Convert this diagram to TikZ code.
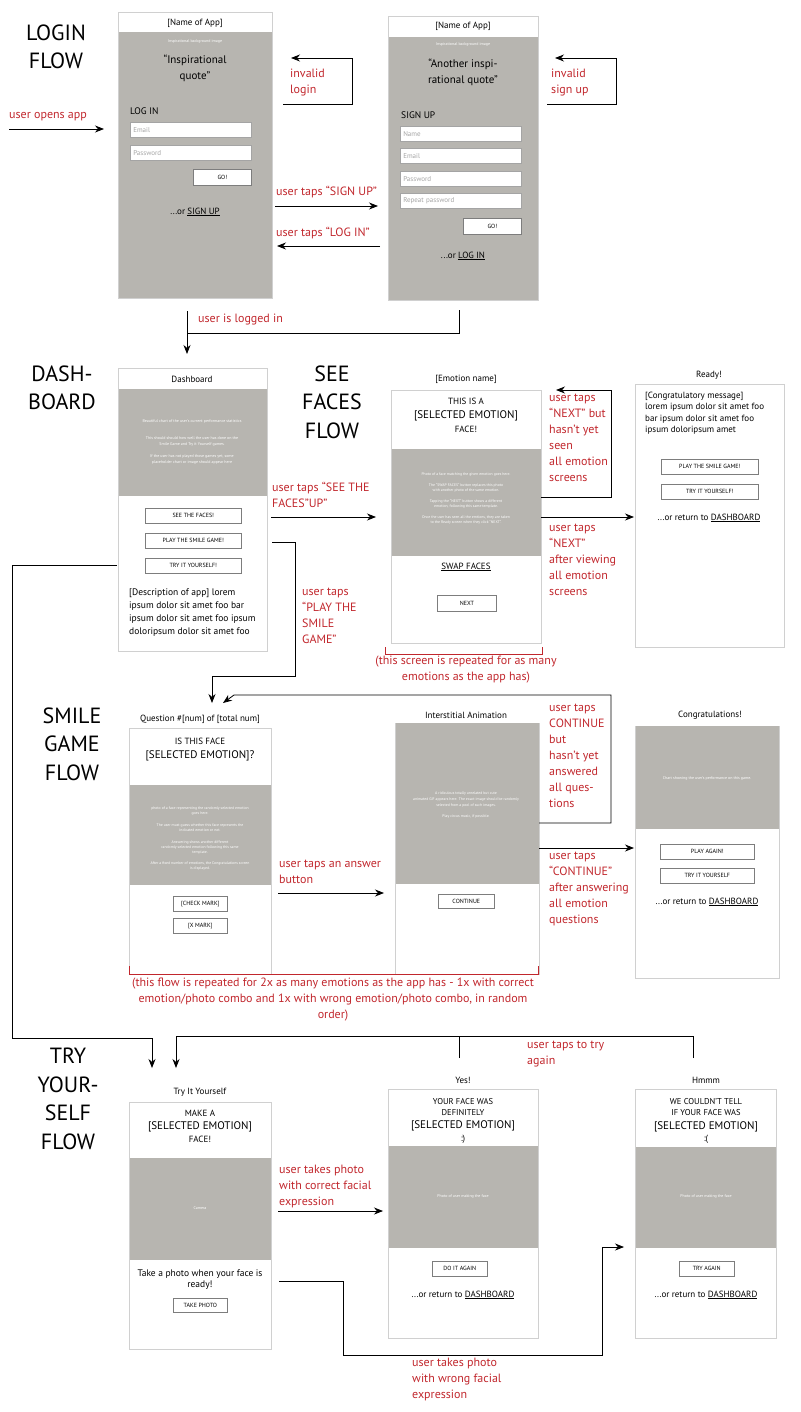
\documentclass[tikz,border=0pt]{standalone}
\usepackage{fontspec}
\setmainfont{PT Sans}
\usetikzlibrary{arrows.meta,positioning}

\definecolor{wiregray}{RGB}{183,181,176}
\definecolor{framegray}{RGB}{208,208,208}
\definecolor{btnedge}{RGB}{125,125,125}
\definecolor{hintgray}{RGB}{165,165,165}
\definecolor{flowred}{RGB}{193,39,45}

\tikzset{
  screen/.style={draw=framegray, line width=0.9pt, fill=white, anchor=north west, inner sep=0pt},
  photo/.style={fill=wiregray, anchor=north west, inner sep=0pt},
  btn/.style={draw=btnedge, fill=white, line width=0.6pt, anchor=north west, inner sep=0pt, font=\fontsize{6}{7}\selectfont},
  field/.style={draw=btnedge!70, fill=white, line width=0.5pt, anchor=north west, text width=115pt, inner xsep=3pt, inner ysep=0pt, minimum height=15pt, align=left, text=hintgray, font=\fontsize{7}{8}\selectfont},
  bgnote/.style={text=white, font=\fontsize{4}{5}\selectfont, align=center, inner sep=0pt},
  scrtitle/.style={font=\fontsize{9}{11}\selectfont, inner sep=0pt},
  small/.style={font=\fontsize{8.5}{11.5}\selectfont, align=center, inner sep=0pt},
  emo/.style={font=\fontsize{11}{13}\selectfont, inner sep=0pt},
  linktext/.style={font=\fontsize{9}{11}\selectfont, inner sep=0pt},
  bigtitle/.style={font=\fontsize{22}{28.5}\selectfont, align=center, inner sep=0pt},
  flowlabel/.style={text=flowred, font=\fontsize{12}{16}\selectfont, align=left, anchor=west, inner sep=0pt},
  link/.style={-{Stealth[length=9pt,width=7pt]}, line width=0.8pt},
  wire/.style={line width=0.8pt},
  bracket/.style={draw=flowred, line width=1pt}
}

\begin{document}
\begin{tikzpicture}[x=1pt,y=-1pt]
\useasboundingbox (0,0) rectangle (800,1412);

% Section titles
\node[bigtitle] (logintitle) at (56,47) {LOGIN\\FLOW};
\node[bigtitle] (dashtitle) at (62,388) {DASH-\\BOARD};
\node[bigtitle] (facestitle) at (332,402) {SEE\\FACES\\FLOW};
\node[bigtitle] (smiletitle) at (72,744) {SMILE\\GAME\\FLOW};
\node[bigtitle] (trytitle) at (68,1099) {TRY\\YOUR-\\SELF\\FLOW};

% Login screen
\node[screen, minimum width=154pt, minimum height=286pt] (login) at (118,12) {};
\node[photo, minimum width=153pt, minimum height=265.5pt] (loginbg) at (118.5,32) {};
\node[scrtitle] (loginname) at (195,23) {[Name of App]};
\node[bgnote] (loginnote) at (195,42) {Inspirational background image};
\node[emo, align=center, font=\fontsize{11}{16}\selectfont] (loginquote) at (195,68) {“Inspirational\\quote”};
\node[linktext, anchor=west, font=\fontsize{9.5}{11}\selectfont] (loginhead) at (130,111) {LOG IN};
\node[field] (loginmail) at (130,122) {Email};
\node[field] (loginpass) at (130,145) {Password};
\node[btn, minimum width=58pt, minimum height=16pt] (logingo) at (193,169) {GO!};
\node[linktext] (loginalt) at (195,212) {...or \underline{SIGN UP}};

% Sign up screen
\node[screen, minimum width=150pt, minimum height=284pt] (signup) at (388,16) {};
\node[photo, minimum width=149pt, minimum height=262.5pt] (signupbg) at (388.5,37) {};
\node[scrtitle] (signupname) at (463,26) {[Name of App]};
\node[bgnote] (signupnote) at (463,45) {Inspirational background image};
\node[emo, align=center, font=\fontsize{11}{16}\selectfont] (signupquote) at (463,72) {“Another inspi-\\rational quote”};
\node[linktext, anchor=west, font=\fontsize{9.5}{11}\selectfont] (signuphead) at (401,115) {SIGN UP};
\foreach \y/\t [count=\i] in {126/Name,148/Email,171/Password,193/Repeat password}
  \node[field] (signfield\i) at (400,\y) {\t};
\node[btn, minimum width=58pt, minimum height=16pt] (signupgo) at (463,218) {GO!};
\node[linktext] (signupalt) at (463,256) {...or \underline{LOG IN}};

% Login flow connectors
\coordinate (appopen) at (9,129);
\coordinate (appin) at (104,129);
\draw[link] (appopen) -- (appin);
\node[flowlabel] (openlbl) at (9,117) {user opens app};

\coordinate (invlogfrom) at (283,104);
\coordinate (invlogturn) at (352,58);
\coordinate (invlogto) at (291,58);
\draw[link] (invlogfrom) -| (invlogturn) -- (invlogto);
\node[flowlabel] (invloglbl) at (290,83) {invalid\\login};

\coordinate (invsignfrom) at (547,104);
\coordinate (invsignturn) at (616,58);
\coordinate (invsignto) at (555,58);
\draw[link] (invsignfrom) -| (invsignturn) -- (invsignto);
\node[flowlabel] (invsignlbl) at (551,83) {invalid\\sign up};

\coordinate (tosignfrom) at (275,206);
\coordinate (tosignto) at (378,206);
\draw[link] (tosignfrom) -- (tosignto);
\node[flowlabel] (tosignlbl) at (276,192) {user taps “SIGN UP”};

\coordinate (tologfrom) at (380,246);
\coordinate (tologto) at (277,246);
\draw[link] (tologfrom) -- (tologto);
\node[flowlabel] (tologlbl) at (276,233) {user taps “LOG IN”};

\coordinate (loggedfrom) at (187,311);
\coordinate (loggedto) at (187,354);
\coordinate (signedfrom) at (459,310);
\coordinate (loggedjoin) at (187,333);
\draw[link] (loggedfrom) -- (loggedto);
\draw[wire] (signedfrom) |- (loggedjoin);
\node[flowlabel] (loggedlbl) at (198,320) {user is logged in};

% Dashboard screen
\node[screen, minimum width=149pt, minimum height=283pt] (dash) at (118,368) {};
\node[photo, minimum width=148pt, minimum height=107pt] (dashbg) at (118.5,389) {};
\node[scrtitle] (dashname) at (192,379) {Dashboard};
\node[bgnote, font=\fontsize{4}{6}\selectfont] (dashnote) at (192,442) {Beautiful chart of the user’s current performance statistics\\[11.6pt]This should should how well the user has done on the\\Smile Game and Try it Yourself games.\\[5.7pt]If the user has not played those games yet, some\\placeholder chart or image should appear here};
\foreach \y/\t [count=\i] in {508/SEE THE FACES!,533/PLAY THE SMILE GAME!,558/TRY IT YOURSELF!}
  \node[btn, minimum width=96pt, minimum height=15pt] (dashbtn\i) at (145,\y) {\t};
\node[font=\fontsize{9.5}{13}\selectfont, align=left, anchor=west, inner sep=0pt] (dashdesc) at (129,612.5) {[Description of app] lorem\\ipsum dolor sit amet foo bar\\ipsum dolor sit amet foo ipsum\\doloripsum dolor sit amet foo};

% See faces screen
\node[screen, minimum width=150pt, minimum height=253pt] (emotion) at (391,390) {};
\node[photo, minimum width=149pt, minimum height=107pt] (emotionbg) at (391.5,449) {};
\node[scrtitle] (emotionname) at (466,379) {[Emotion name]};
\node[scrtitle] (emotiontop) at (466,401) {THIS IS A};
\node[emo] (emotionsel) at (466,416) {[SELECTED EMOTION]};
\node[scrtitle] (emotionface) at (466,429) {FACE!};
\node[bgnote, font=\fontsize{3.8}{5}\selectfont] (emotionnote) at (466,498.5) {Photo of a face matching the given  emotion goes here.\\[6pt]The “SWAP FACES” button replaces this photo\\with another photo of the same emotion.\\[5.7pt]Tapping the “NEXT” button shows a different\\emotion, following this same template.\\[5.4pt]Once the user has seen all the emtions, they are taken\\to the Ready screen when they click “NEXT”.};
\node[linktext] (emotionswap) at (466,567) {\underline{SWAP FACES}};
\node[btn, minimum width=59pt, minimum height=16pt] (emotionnext) at (437,595) {NEXT};
\draw[bracket] (385,647) -- (385,654) -- (542,654) -- (542,647);
\node[flowlabel, align=center, anchor=center] (emotioncap) at (466,670) {(this screen is repeated for as many\\emotions as the app has)};

% Ready screen
\node[screen, minimum width=149pt, minimum height=263pt] (ready) at (635,384) {};
\node[scrtitle] (readyname) at (709,375) {Ready!};
\node[font=\fontsize{9}{11.5}\selectfont, align=left, anchor=west, inner sep=0pt] (readymsg) at (645,413) {[Congratulatory message]\\lorem ipsum dolor sit amet foo\\bar ipsum dolor sit amet foo\\ipsum doloripsum amet};
\foreach \y/\t [count=\i] in {459/PLAY THE SMILE GAME!,484/TRY IT YOURSELF!}
  \node[btn, minimum width=97pt, minimum height=15pt] (readybtn\i) at (661,\y) {\t};
\node[linktext] (readyalt) at (709,518) {...or return to \underline{DASHBOARD}};

% Faces flow connectors
\coordinate (facesfrom) at (271,517);
\coordinate (facesto) at (376,517);
\draw[link] (facesfrom) -- (facesto);
\node[flowlabel] (faceslbl) at (272,495) {user taps “SEE THE\\FACES”UP”};

\coordinate (nextfrom) at (541,497);
\coordinate (nextturn) at (611,390);
\coordinate (nextto) at (556,390);
\draw[link] (nextfrom) -| (nextturn) -- (nextto);
\node[flowlabel] (nextlbl) at (549,437.5) {user taps\\“NEXT” but\\hasn’t yet\\seen\\all emotion\\screens};

\coordinate (readyfrom) at (541,517);
\coordinate (readyto) at (634,517);
\draw[link] (readyfrom) -- (readyto);
\node[flowlabel] (readylbl) at (549,560) {user taps\\“NEXT”\\after viewing\\all emotion\\screens};

\coordinate (playfrom) at (272,542);
\coordinate (playturn) at (295,676);
\coordinate (playto) at (212,703);
\draw[link] (playfrom) -| (playturn) -| (playto);
\node[flowlabel] (playlbl) at (302,615.5) {user taps\\“PLAY THE\\SMILE\\GAME”};

\coordinate (tryfrom) at (117,565);
\coordinate (tryturn) at (12,1038);
\coordinate (tryto) at (152,1068);
\draw[link] (tryfrom) -| (tryturn) -| (tryto);

% Smile game question screen
\node[screen, minimum width=142pt, minimum height=246pt] (question) at (129,728) {};
\node[photo, minimum width=141pt, minimum height=100pt] (questionbg) at (129.5,785) {};
\node[scrtitle] (questionname) at (200,719) {Question \#[num] of [total num]};
\node[scrtitle] (questiontop) at (200,741) {IS THIS FACE};
\node[emo] (questionsel) at (200,756) {[SELECTED EMOTION]?};
\node[bgnote, font=\fontsize{3.8}{5}\selectfont] (questionnote) at (200,839) {photo of a face representing the randomly selected emotion\\goes here.\\[7pt]The user must guess whether this face represents the\\indicated emotion or not.\\[7pt]Answering shows another different\\randomly selected emotion following this same\\template.\\[6pt]After a fixed number of emotions, the Congratulations screen\\is displayed.};
\node[btn, minimum width=54pt, minimum height=15pt] (questionyes) at (173,896) {[CHECK MARK]};
\node[btn, minimum width=54pt, minimum height=15pt] (questionno) at (173,918) {[X MARK]};

% Interstitial screen
\node[screen, minimum width=144pt, minimum height=251pt] (inter) at (395,723) {};
\node[photo, minimum width=143pt, minimum height=161pt] (interbg) at (395.5,723) {};
\node[scrtitle] (intername) at (466,715) {Interstitial Animation};
\node[bgnote, font=\fontsize{3.8}{6}\selectfont] (internote) at (466,805.5) {A ridiculous totally unrelated but cute\\animated GIF appears here. The exact image should be randomly\\selected from a pool of such images.\\[5pt]Play circus music, if possible.};
\node[btn, minimum width=56pt, minimum height=14pt] (intercont) at (438,894) {CONTINUE};
\draw[bracket] (129,966) -- (129,974) -- (538,974) -- (538,966);
\node[flowlabel, align=center, anchor=center] (smilecap) at (333,999.5) {(this flow is repeated for 2x as many emotions as the app has - 1x with correct\\emotion/photo combo and 1x with wrong emotion/photo combo, in random\\order)};

% Congratulations screen
\node[screen, minimum width=144pt, minimum height=252pt] (congrats) at (635,726) {};
\node[photo, minimum width=143pt, minimum height=103pt] (congratsbg) at (635.5,726) {};
\node[scrtitle] (congratsname) at (710,715) {Congratulations!};
\node[bgnote] (congratsnote) at (707,778) {Chart showing the user’s performance on this game.};
\foreach \y/\t [count=\i] in {844/PLAY AGAIN!,868/TRY IT YOURSELF}
  \node[btn, minimum width=94pt, minimum height=15pt] (congratsbtn\i) at (660,\y) {\t};
\node[linktext] (congratsalt) at (707,902) {...or return to \underline{DASHBOARD}};

% Smile game connectors
\coordinate (answerfrom) at (278,893);
\coordinate (answerto) at (384,893);
\draw[link] (answerfrom) -- (answerto);
\node[flowlabel] (answerlbl) at (279,872) {user taps an answer\\button};

\coordinate (contfrom) at (539,823);
\coordinate (contturn) at (611,695);
\coordinate (contbend) at (234,695);
\coordinate (contto) at (223,703);
\draw[link] (contfrom) -| (contturn) -- (contbend) -- (contto);
\node[flowlabel] (contlbl) at (549,756) {user taps\\CONTINUE\\but\\hasn’t yet\\answered\\all ques-\\tions};

\coordinate (donefrom) at (539,848);
\coordinate (doneto) at (634,848);
\draw[link] (donefrom) -- (doneto);
\node[flowlabel] (donelbl) at (549,888.5) {user taps\\“CONTINUE”\\after answering\\all emotion\\questions};

% Try it yourself screen
\node[screen, minimum width=142pt, minimum height=247pt] (tryit) at (129,1102) {};
\node[photo, minimum width=141pt, minimum height=102pt] (tryitbg) at (129.5,1158) {};
\node[scrtitle] (tryitname) at (200,1092) {Try It Yourself};
\node[scrtitle] (tryittop) at (200,1113) {MAKE A};
\node[emo] (tryitsel) at (200,1127) {[SELECTED EMOTION]};
\node[scrtitle] (tryitface) at (200,1139) {FACE!};
\node[bgnote] (tryitcam) at (200,1208) {Camera};
\node[small, font=\fontsize{9.5}{11}\selectfont] (tryittake) at (200,1280) {Take a photo when your face is\\ready!};
\node[btn, minimum width=54pt, minimum height=14pt] (tryitbtn) at (173,1298) {TAKE PHOTO};

% Yes screen
\node[screen, minimum width=150pt, minimum height=249pt] (yes) at (388,1089) {};
\node[photo, minimum width=149pt, minimum height=102pt] (yesbg) at (388.5,1146) {};
\node[scrtitle] (yesname) at (463,1080) {Yes!};
\node[small, font=\fontsize{8.5}{11}\selectfont] (yestop) at (463,1107.5) {YOUR FACE WAS\\DEFINITELY};
\node[emo] (yessel) at (463,1126) {[SELECTED EMOTION]};
\node[scrtitle] (yessmile) at (463,1139) {:)};
\node[bgnote] (yesnote) at (463,1196) {Photo of user making the face};
\node[btn, minimum width=55pt, minimum height=15pt] (yesbtn) at (432,1261) {DO IT AGAIN};
\node[linktext] (yesalt) at (463,1295) {...or return to \underline{DASHBOARD}};

% Hmmm screen
\node[screen, minimum width=141pt, minimum height=249pt] (hmmm) at (635,1089) {};
\node[photo, minimum width=140pt, minimum height=101pt] (hmmmbg) at (635.5,1147) {};
\node[scrtitle] (hmmmname) at (706,1080) {Hmmm};
\node[small, font=\fontsize{8.5}{11}\selectfont] (hmmmtop) at (706,1107) {WE COULDN’T TELL\\IF YOUR FACE WAS};
\node[emo] (hmmmsel) at (706,1127) {[SELECTED EMOTION]};
\node[scrtitle] (hmmmsad) at (706,1139) {:(};
\node[bgnote] (hmmmnote) at (706,1196) {Photo of user making the face};
\node[btn, minimum width=55pt, minimum height=15pt] (hmmmbtn) at (679,1261) {TRY AGAIN};
\node[linktext] (hmmmalt) at (706,1295) {...or return to \underline{DASHBOARD}};

% Try yourself connectors
\coordinate (yesback) at (459,1058);
\coordinate (hmmmback) at (693,1058);
\coordinate (againjoin) at (459,1036);
\coordinate (againto) at (176,1068);
\draw[wire] (yesback) -- (againjoin);
\draw[link] (hmmmback) |- (againto |- againjoin) -- (againto);
\node[flowlabel] (againlbl) at (527,1054) {user taps to try\\again};

\coordinate (rightfrom) at (278,1211);
\coordinate (rightto) at (383,1211);
\draw[link] (rightfrom) -- (rightto);
\node[flowlabel] (rightlbl) at (279,1186) {user takes photo\\with correct facial\\expression};

\coordinate (wrongfrom) at (279,1281);
\coordinate (wrongdown) at (343,1355);
\coordinate (wrongup) at (602,1247);
\coordinate (wrongto) at (624,1247);
\draw[link] (wrongfrom) -| (wrongdown) -| (wrongup) -- (wrongto);
\node[flowlabel] (wronglbl) at (412,1379) {user takes photo\\with wrong facial\\expression};

\end{tikzpicture}
\end{document}
